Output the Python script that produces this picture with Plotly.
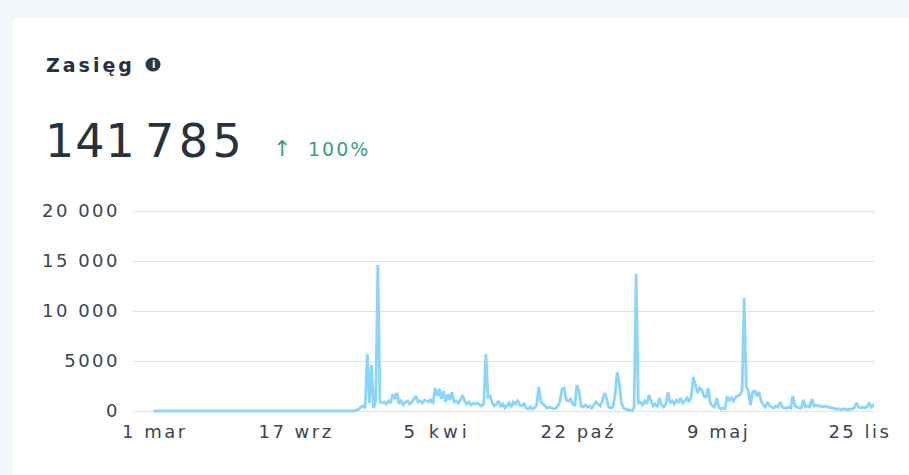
import pandas as pd
import plotly.graph_objects as go

# ---- data ----
zero_start = "2021-02-27"
series_start = "2021-12-06"   # first sample of the active period, every 3 days
step_days = 3
reach_values = [
    0, 0, 100, 200, 400, 500, 300, 5700, 800, 4600,
    300, 1000, 14600, 900, 800, 900, 700, 1000, 800, 1700,
    1200, 1800, 700, 1000, 600, 900, 1000, 700, 900, 1200,
    1500, 900, 1000, 800, 1100, 1000, 900, 1200, 700, 2300,
    1500, 2200, 1200, 2000, 900, 1700, 1100, 1900, 900, 1000,
    800, 1100, 1600, 1000, 700, 900, 600, 800, 700, 800,
    600, 500, 700, 5700, 1400, 1500, 800, 500, 700, 1000,
    400, 700, 300, 600, 800, 400, 900, 700, 1100, 600,
    500, 800, 300, 200, 400, 200, 300, 600, 2400, 900,
    700, 600, 300, 400, 300, 200, 300, 500, 1000, 2200,
    2300, 1100, 1000, 1200, 700, 500, 2600, 2000, 500, 400,
    600, 400, 500, 300, 600, 900, 700, 500, 1000, 1800,
    1300, 400, 300, 400, 1500, 3900, 2800, 800, 300, 200,
    100, 100, 0, 300, 13700, 800, 900, 600, 1000, 700,
    1600, 1000, 500, 700, 400, 1300, 600, 400, 700, 1900,
    800, 1000, 700, 1100, 900, 1300, 800, 1000, 1300, 900,
    1400, 3400, 2500, 1800, 2300, 2100, 1500, 1400, 2300, 800,
    500, 400, 1300, 400, 200, 300, 200, 1500, 1000, 1300,
    1000, 1400, 1500, 1600, 2000, 11300, 2400, 2000, 600, 1900,
    2000, 1500, 1900, 1000, 600, 400, 900, 500, 400, 300,
    500, 400, 900, 400, 300, 300, 400, 300, 1500, 500,
    400, 300, 300, 1100, 400, 500, 400, 1200, 500, 600,
    500, 500, 400, 500, 400, 400, 300, 300, 200, 200,
    200, 100, 200, 200, 100, 200, 200, 300, 800, 400,
    300, 400, 300, 400, 750, 400, 600, 300,
]
x_tick_dates = ["2021-03-01", "2021-09-17", "2022-04-05", "2022-10-22", "2023-05-09", "2023-11-25"]
x_tick_labels = ["1 mar", "17 wrz", "5 kwi", "22 paź", "9 maj", "25 lis"]
y_tick_values = [0, 5000, 10000, 15000, 20000]
y_tick_labels = ["0", "5000", "10 000", "15 000", "20 000"]
title_text = "Zasięg"
total_thousands = "141"
total_units = "785"
change_text = "100%"

# ---- build ----
active_dates = pd.date_range(series_start, periods=len(reach_values), freq=f"{step_days}D")
dates = [pd.Timestamp(zero_start)] + list(active_dates)
values = [0] + reach_values

FONT = "DejaVu Sans"
TICK_COLOR = "#3b4550"

def sp(text, px):
    return f'<span style="letter-spacing:{px}px">{text}</span>'

# pixel -> paper helpers (plot area: x 133..874, y 209..413)
L, R, T, B = 133, 874, 209, 413
def PX(px):
    return (px - L) / (R - L)
def PY(py):
    return (B - py) / (B - T)

fig = go.Figure()
fig.add_trace(go.Scatter(
    x=dates, y=values, mode="lines",
    line=dict(color="#8ad4fd", width=2.8),
    hoverinfo="skip", showlegend=False,
))

card_path = (f"M {PX(13)},{PY(500)} L {PX(13)},{PY(26)} "
             f"Q {PX(13)},{PY(17)} {PX(22)},{PY(17)} "
             f"L {PX(930)},{PY(17)} L {PX(930)},{PY(500)} Z")

tick_spacing = {"5 kwi": 4}

fig.update_layout(
    width=909, height=475,
    margin=dict(l=L, r=909 - R, t=T, b=475 - B),
    paper_bgcolor="#f4f7fa",
    plot_bgcolor="#ffffff",
    showlegend=False,
    shapes=[
        dict(type="path", xref="paper", yref="paper", path=card_path,
             fillcolor="#ffffff", line=dict(width=0), layer="below"),
        dict(type="circle", xref="paper", yref="paper",
             x0=PX(145.5), x1=PX(160.5), y0=PY(71.5), y1=PY(57.5),
             fillcolor="#2c3a47", line=dict(width=0), layer="above"),
    ],
    annotations=[
        dict(xref="paper", yref="paper", x=PX(44), y=PY(65), xanchor="left", yanchor="middle",
             text="<b>" + sp(title_text, 3) + "</b>", showarrow=False,
             font=dict(family=FONT, size=19, color="#26323e")),
        dict(xref="paper", yref="paper", x=PX(153), y=PY(64.5), xanchor="center", yanchor="middle",
             text="<b>i</b>", showarrow=False,
             font=dict(family=FONT, size=10, color="#ffffff")),
        dict(xref="paper", yref="paper", x=PX(43), y=PY(141), xanchor="left", yanchor="middle",
             text=sp(total_thousands, 1) + "\u2009" + sp(total_units, 4.5), showarrow=False,
             font=dict(family=FONT, size=46, color="#27323d")),
        dict(xref="paper", yref="paper", x=PX(271), y=PY(148), xanchor="left", yanchor="middle",
             text="↑", showarrow=False,
             font=dict(family=FONT, size=22, color="#3a9f76")),
        dict(xref="paper", yref="paper", x=PX(306), y=PY(149), xanchor="left", yanchor="middle",
             text=sp(change_text, 2), showarrow=False,
             font=dict(family=FONT, size=19, color="#3a9f76")),
    ],
    xaxis=dict(
        type="date",
        range=["2021-01-29", "2023-12-15"],
        tickvals=x_tick_dates,
        ticktext=[sp(t, tick_spacing.get(t, 2.5)) for t in x_tick_labels],
        showgrid=False, zeroline=False, showline=False,
        ticks="", ticklabelstandoff=6,
        tickfont=dict(family=FONT, size=18, color=TICK_COLOR),
        fixedrange=True,
    ),
    yaxis=dict(
        range=[-200, 20200],
        tickvals=y_tick_values,
        ticktext=[sp(t, 2.5) for t in y_tick_labels],
        showgrid=True, gridcolor="#e2e2e2", gridwidth=1,
        zeroline=False, showline=False,
        ticks="", ticklabelstandoff=12,
        tickfont=dict(family=FONT, size=18, color=TICK_COLOR),
        fixedrange=True,
    ),
)

fig.write_html(
    "out.html",
    config={"displayModeBar": False},
    post_script="document.body.style.margin='0';document.body.style.overflow='hidden';",
)
